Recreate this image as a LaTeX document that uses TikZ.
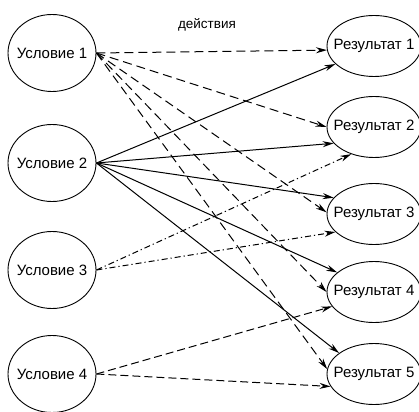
\documentclass[tikz,border=0pt]{standalone}
\usepackage{fontspec}
\setmainfont{Liberation Sans}
\usetikzlibrary{arrows.meta,shapes.geometric}

\begin{document}
\begin{tikzpicture}[x=1pt, y=-1pt, font=\fontsize{15}{18}\selectfont,
        cond/.style={ellipse, draw, line width=0.9pt, minimum width=88pt, minimum height=77pt, inner xsep=-12pt, inner ysep=0pt},
        res/.style={ellipse, draw, line width=0.9pt, minimum width=94pt, minimum height=61pt, inner xsep=-12pt, inner ysep=0pt},
        act/.style={-{Stealth[length=11pt,width=6pt]}, line width=1pt},
        dsh/.style={act, dash pattern=on 9pt off 5pt},
        dsh4/.style={act, dash pattern=on 8pt off 4pt},
        dshdot/.style={act, dash pattern=on 6pt off 3pt on 1.2pt off 3pt}]
        \useasboundingbox (0,0) rectangle (419,411);
        % Conditions on the left
        \foreach \i/\y in {1/53, 2/163, 3/270, 4/374} {
            \node[cond] (u\i) at (52,\y) {Условие \i};
        }
        % Results on the right
        \foreach \j/\y in {1/46, 2/127, 3/214, 4/292, 5/374} {
            \node[res] (r\j) at (374,\y) {Результат \j};
        }
        \node[font=\fontsize{13.5}{16}\selectfont] (lbl) at (207,25) {действия};
        % Actions from condition 1
        \foreach \j/\a in {1/185, 2/180, 3/178, 4/180, 5/174} {
            \draw[dsh] (u1.east) -- (r\j.\a);
        }
        % Actions from condition 2
        \foreach \j/\a in {1/205, 2/202, 3/158, 4/152, 5/149} {
            \draw[act] (u2.east) -- (r\j.\a);
        }
        % Actions from condition 3
        \draw[dshdot] (u3.east) -- (r2.230);
        \draw[dshdot] (u3.east) -- (r3.205);
        % Actions from condition 4
        \draw[dsh4] (u4.east) -- (r4.199);
        \draw[dsh4] (u4.east) -- (r5.196);
    \end{tikzpicture}
\end{document}
